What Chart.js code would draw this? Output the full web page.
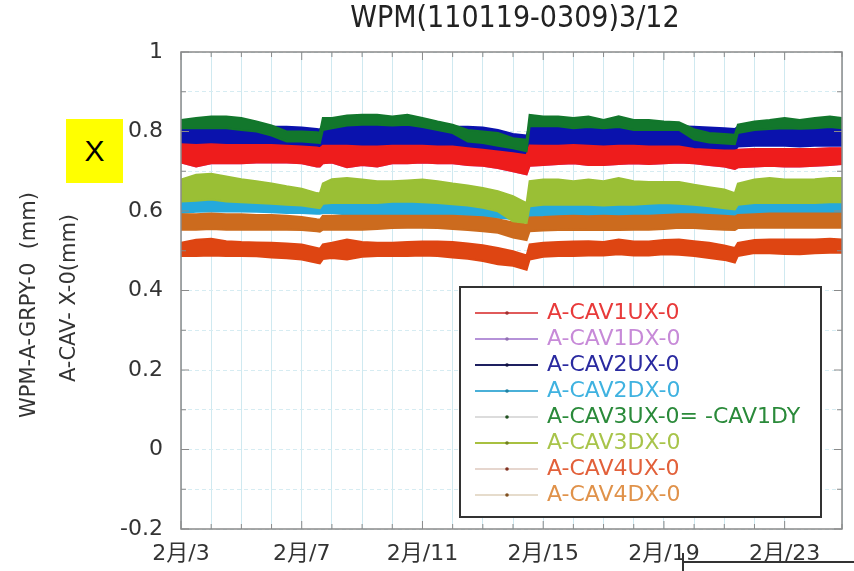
<!DOCTYPE html>
<html>
<head>
<meta charset="utf-8">
<script src="https://cdn.jsdelivr.net/npm/chart.js@4"></script>
<style>
html, body { margin: 0; padding: 0; background: #fff; }
#wrap { position: relative; width: 854px; height: 571px; }
#xbox { position: absolute; left: 66px; top: 119px; width: 57px; height: 64px; background: #ffff00;
        font: 30px 'Liberation Sans', Arial, sans-serif; color: #000;
        display: flex; align-items: center; justify-content: center; }
.scrap { position: absolute; background: #333; }
</style>
</head>
<body>
<div id="wrap">
  <canvas id="c"></canvas>
  <div id="xbox">X</div>
  <div class="scrap" style="left:683px;top:561px;width:171px;height:2px"></div>
  <div class="scrap" style="left:682px;top:553px;width:2px;height:18px"></div>
</div>
<script>
// time axis, days of February (extra points around the jumps)
const days = [3, 3.5, 4, 4.5, 5, 5.5, 6, 6.5, 7, 7.5,
  7.6, 7.7, 8, 8.5, 9, 9.5, 10, 10.5, 11, 11.5, 12, 12.5, 13, 13.5,
  14, 14.45, 14.55, 15, 15.5, 16, 16.5, 17, 17.5, 18, 18.5, 19, 19.5,
  20, 20.5, 21, 21.35, 21.45, 22, 22.5, 23, 23.5, 24, 24.5, 24.9];

// each series is a noisy band: upper and lower edge (mm)
const cav1uxHi = [.768,.766,.768,.766,.766,.766,.766,.764,.762,.760,
  .758,.764,.764,.764,.762,.762,.764,.764,.764,.762,.762,.758,.754,.750,
  .745,.740,.765,.764,.764,.766,.764,.762,.764,.764,.762,.762,.762,
  .756,.754,.752,.752,.754,.756,.756,.756,.756,.756,.758,.758];
const cav1uxLo = [.722,.712,.720,.720,.720,.722,.722,.722,.720,.712,
  .712,.720,.722,.710,.716,.712,.720,.720,.722,.720,.720,.716,.714,.708,
  .700,.692,.714,.716,.718,.720,.716,.716,.718,.720,.718,.720,.722,
  .720,.716,.712,.706,.710,.712,.714,.712,.712,.714,.716,.718];
// 1DX is not visible in the picture, it lies under the 1UX band
const cav1dxHi = cav1uxHi;
const cav1dxLo = cav1uxLo;
const cav2uxHi = [.815,.815,.815,.815,.812,.810,.812,.812,.810,.806,
  .805,.815,.815,.820,.820,.820,.820,.820,.815,.812,.812,.812,.810,.804,
  .794,.790,.815,.815,.815,.815,.815,.815,.815,.815,.815,.815,.813,
  .812,.810,.808,.806,.812,.815,.815,.815,.815,.815,.815,.815];
const cav2uxLo = [.762,.762,.764,.765,.766,.768,.768,.764,.762,.758,
  .758,.764,.762,.755,.752,.762,.762,.762,.762,.762,.760,.758,.756,.752,
  .745,.741,.762,.762,.762,.764,.762,.762,.764,.764,.762,.764,.764,
  .758,.756,.754,.752,.762,.764,.764,.764,.762,.764,.764,.764];
const cav2dxHi = [.636,.638,.640,.636,.634,.632,.630,.628,.626,.620,
  .619,.630,.632,.632,.632,.632,.635,.636,.634,.632,.629,.626,.620,.611,
  .590,.585,.624,.628,.628,.628,.628,.626,.628,.628,.630,.632,.630,
  .628,.624,.619,.616,.628,.632,.632,.632,.632,.632,.634,.634];
const cav2dxLo = [.595,.598,.599,.599,.599,.598,.597,.595,.595,.593,
  .593,.595,.595,.591,.587,.587,.589,.591,.591,.591,.591,.589,.587,.583,
  .580,.578,.583,.585,.587,.587,.587,.589,.589,.589,.587,.587,.591,
  .589,.587,.585,.583,.589,.591,.591,.591,.591,.591,.591,.591];
const cav3uxHi = [.829,.834,.838,.838,.834,.825,.815,.800,.800,.798,
  .797,.834,.834,.840,.842,.842,.838,.842,.834,.825,.817,.804,.800,.796,
  .783,.779,.842,.838,.838,.834,.838,.829,.838,.829,.829,.825,.823,
  .806,.796,.794,.792,.817,.825,.829,.834,.829,.834,.838,.834];
const cav3uxLo = [.808,.808,.808,.808,.804,.800,.790,.775,.775,.772,
  .771,.804,.808,.815,.817,.817,.815,.817,.811,.804,.796,.775,.771,.764,
  .758,.750,.813,.813,.813,.808,.811,.808,.811,.804,.804,.804,.804,
  .780,.772,.770,.768,.796,.804,.806,.808,.807,.808,.811,.808];
const cav3dxHi = [.679,.691,.694,.687,.680,.675,.669,.662,.656,.645,
  .644,.669,.680,.683,.679,.675,.675,.677,.679,.675,.669,.664,.658,.650,
  .637,.620,.675,.679,.679,.675,.679,.675,.683,.675,.673,.673,.673,
  .666,.660,.654,.645,.669,.679,.683,.679,.679,.680,.683,.683];
const cav3dxLo = [.624,.626,.629,.624,.622,.620,.618,.616,.614,.608,
  .607,.618,.620,.620,.620,.620,.623,.624,.622,.620,.617,.614,.608,.599,
  .574,.570,.612,.616,.616,.616,.616,.614,.616,.616,.618,.620,.618,
  .616,.612,.607,.604,.616,.620,.620,.620,.620,.620,.622,.622];
const cav4uxHi = [.520,.528,.530,.524,.522,.521,.520,.518,.516,.507,
  .505,.516,.520,.528,.522,.520,.520,.522,.523,.523,.522,.518,.514,.507,
  .499,.488,.516,.520,.522,.523,.524,.522,.528,.523,.523,.527,.528,
  .524,.520,.513,.507,.520,.527,.528,.528,.528,.528,.530,.528];
const cav4uxLo = [.487,.487,.488,.487,.487,.486,.483,.481,.478,.470,
  .468,.479,.482,.478,.485,.487,.487,.487,.488,.487,.483,.480,.474,.466,
  .462,.452,.478,.485,.487,.487,.488,.488,.491,.488,.488,.491,.490,
  .487,.482,.477,.470,.487,.494,.494,.492,.491,.494,.495,.495];
const cav4dxHi = [.592,.592,.594,.592,.592,.590,.590,.588,.585,.579,
  .578,.588,.588,.588,.588,.588,.588,.588,.588,.588,.588,.586,.584,.579,
  .571,.566,.584,.585,.587,.588,.587,.588,.587,.588,.588,.590,.592,
  .592,.590,.588,.586,.590,.592,.594,.594,.594,.594,.594,.594];
const cav4dxLo = [.553,.553,.555,.553,.553,.553,.553,.553,.552,.549,
  .548,.553,.553,.553,.553,.555,.557,.558,.558,.557,.555,.552,.549,.545,
  .533,.527,.549,.551,.552,.553,.552,.552,.552,.553,.553,.555,.558,
  .557,.555,.553,.552,.557,.558,.558,.558,.558,.558,.558,.558];

const seriesNames = ['A-CAV1UX-0', 'A-CAV1DX-0', 'A-CAV2UX-0', 'A-CAV2DX-0',
  'A-CAV3UX-0= -CAV1DY', 'A-CAV3DX-0', 'A-CAV4UX-0', 'A-CAV4DX-0'];
const bandHi = [cav1uxHi, cav1dxHi, cav2uxHi, cav2dxHi, cav3uxHi, cav3dxHi, cav4uxHi, cav4dxHi];
const bandLo = [cav1uxLo, cav1dxLo, cav2uxLo, cav2dxLo, cav3uxLo, cav3dxLo, cav4uxLo, cav4dxLo];

const xTickDays = [3, 7, 11, 15, 19, 23];
const xTickLabels = ['2月/3', '2月/7', '2月/11', '2月/15', '2月/19', '2月/23'];
const yTickValues = [-0.2, 0, 0.2, 0.4, 0.6, 0.8, 1];
const yTickLabels = ['-0.2', '0', '0.2', '0.4', '0.6', '0.8', '1'];

// styles
const bandColors = ['#ee1c1c', '#cc66dd', '#0a12ad', '#25a9dc', '#12772c', '#9abf35', '#de4512', '#cc6b1e'];
const drawOrder = [1, 3, 2, 4, 0, 0, 1, 1]; // lower = drawn on top
const legendText = ['#e83a3a', '#c78ad8', '#2a2aa0', '#3fb2e0', '#2a8a3a', '#a8c44a', '#e2603a', '#e0924a'];
const legendLine = ['#e05a5a', '#b592d8', '#1e2060', '#4ab0d8', '#dcdcdc', '#a8c040', '#e6d6ce', '#e6dccc'];
const legendDot = ['#a03030', '#9070b0', '#101040', '#2080a0', '#205020', '#708020', '#803020', '#805020'];

const datasets = [];
seriesNames.forEach(function (name, i) {
    datasets.push({
        label: name + ' hi',
        data: days.map((d, k) => ({ x: d, y: bandHi[i][k] })),
        borderColor: bandColors[i],
        borderWidth: 2,
        pointRadius: 0,
        fill: false,
        order: drawOrder[i]
    });
    datasets.push({
        label: name,
        data: days.map((d, k) => ({ x: d, y: bandLo[i][k] })),
        borderColor: bandColors[i],
        backgroundColor: bandColors[i],
        borderWidth: 2,
        pointRadius: 0,
        fill: '-1',
        order: drawOrder[i]
    });
});

const overlay = {
    id: 'overlay',
    afterDatasetsDraw(chart) {
        const { ctx, chartArea: a, scales: { x, y } } = chart;
        ctx.save();
        ctx.strokeStyle = '#8a8a8a';
        ctx.lineWidth = 1.5;
        ctx.strokeRect(a.left, a.top, a.right - a.left, a.bottom - a.top);
        ctx.lineWidth = 1;
        ctx.beginPath();
        x.ticks.forEach(t => {
            const px = x.getPixelForValue(t.value);
            const len = t.label ? 8 : 5;
            ctx.moveTo(px, a.bottom); ctx.lineTo(px, a.bottom - len);
            ctx.moveTo(px, a.top); ctx.lineTo(px, a.top + len);
        });
        y.ticks.forEach(t => {
            const py = y.getPixelForValue(t.value);
            const len = t.label ? 8 : 5;
            ctx.moveTo(a.left, py); ctx.lineTo(a.left + len, py);
            ctx.moveTo(a.right, py); ctx.lineTo(a.right - len, py);
        });
        ctx.stroke();
        ctx.restore();
    },
    afterDraw(chart) {
        const ctx = chart.ctx;
        ctx.save();
        // legend box
        ctx.fillStyle = '#fff';
        ctx.fillRect(460, 287, 361, 230);
        ctx.strokeStyle = '#333';
        ctx.lineWidth = 2;
        ctx.strokeRect(460, 287, 361, 230);
        ctx.font = "22px 'DejaVu Sans'";
        ctx.textBaseline = 'middle';
        seriesNames.forEach(function (name, i) {
            const yy = 313 + i * 26;
            ctx.strokeStyle = legendLine[i];
            ctx.lineWidth = 2;
            ctx.beginPath();
            ctx.moveTo(475, yy); ctx.lineTo(538, yy);
            ctx.stroke();
            ctx.fillStyle = legendDot[i];
            ctx.beginPath();
            ctx.arc(507, yy, 1.8, 0, Math.PI * 2);
            ctx.fill();
            ctx.fillStyle = legendText[i];
            ctx.textAlign = 'left';
            ctx.fillText(name, 547, yy);
        });
        // title
        ctx.fillStyle = '#222';
        ctx.textAlign = 'center';
        ctx.font = "30px 'DejaVu Sans Condensed', 'DejaVu Sans'";
        ctx.fillText('WPM(110119-0309)3/12', 515, 19);
        // y axis titles
        ctx.fillStyle = '#333';
        ctx.font = "21px 'DejaVu Sans'";
        ctx.translate(30, 305);
        ctx.rotate(-Math.PI / 2);
        ctx.fillText('WPM-A-GRPY-0  (mm)', 0, 0);
        ctx.rotate(Math.PI / 2);
        ctx.translate(40, -7);
        ctx.rotate(-Math.PI / 2);
        ctx.fillText('A-CAV- X-0(mm)', 0, 0);
        ctx.restore();
    }
};

new Chart(document.getElementById('c'), {
    type: 'line',
    data: { datasets: datasets },
    options: {
        responsive: true,
        maintainAspectRatio: false,
        animation: false,
        layout: { padding: { top: 52, right: 7, bottom: 0, left: 0 } },
        plugins: {
            legend: { display: false },
            tooltip: { enabled: false },
            title: { display: false }
        },
        scales: {
            x: {
                type: 'linear',
                min: 3,
                max: 24.9,
                afterFit(scale) { scale.height = 42; },
                border: { display: false },
                grid: { color: '#cfe9f0', lineWidth: 1, drawTicks: false },
                ticks: {
                    stepSize: 1,
                    autoSkip: false,
                    maxRotation: 0,
                    maxTicksLimit: 100,
                    padding: 12,
                    color: '#333',
                    font: { family: "'DejaVu Sans', 'Noto Sans CJK JP'", size: 22 },
                    callback: function (v) {
                        const i = xTickDays.indexOf(v);
                        return i >= 0 ? xTickLabels[i] : '';
                    }
                }
            },
            y: {
                min: -0.2,
                max: 1,
                afterFit(scale) { scale.width = 181; },
                border: { display: false, dash: [4, 3] },
                grid: { color: '#d6ecf2', lineWidth: 1, drawTicks: false },
                ticks: {
                    stepSize: 0.05,
                    maxTicksLimit: 100,
                    padding: 18,
                    color: '#333',
                    font: { family: "'DejaVu Sans'", size: 22 },
                    callback: function (v) {
                        const i = yTickValues.findIndex(t => Math.round(t * 100) === Math.round(v * 100));
                        return i >= 0 ? yTickLabels[i] : '';
                    }
                }
            }
        }
    },
    plugins: [overlay]
});
</script>
</body>
</html>
